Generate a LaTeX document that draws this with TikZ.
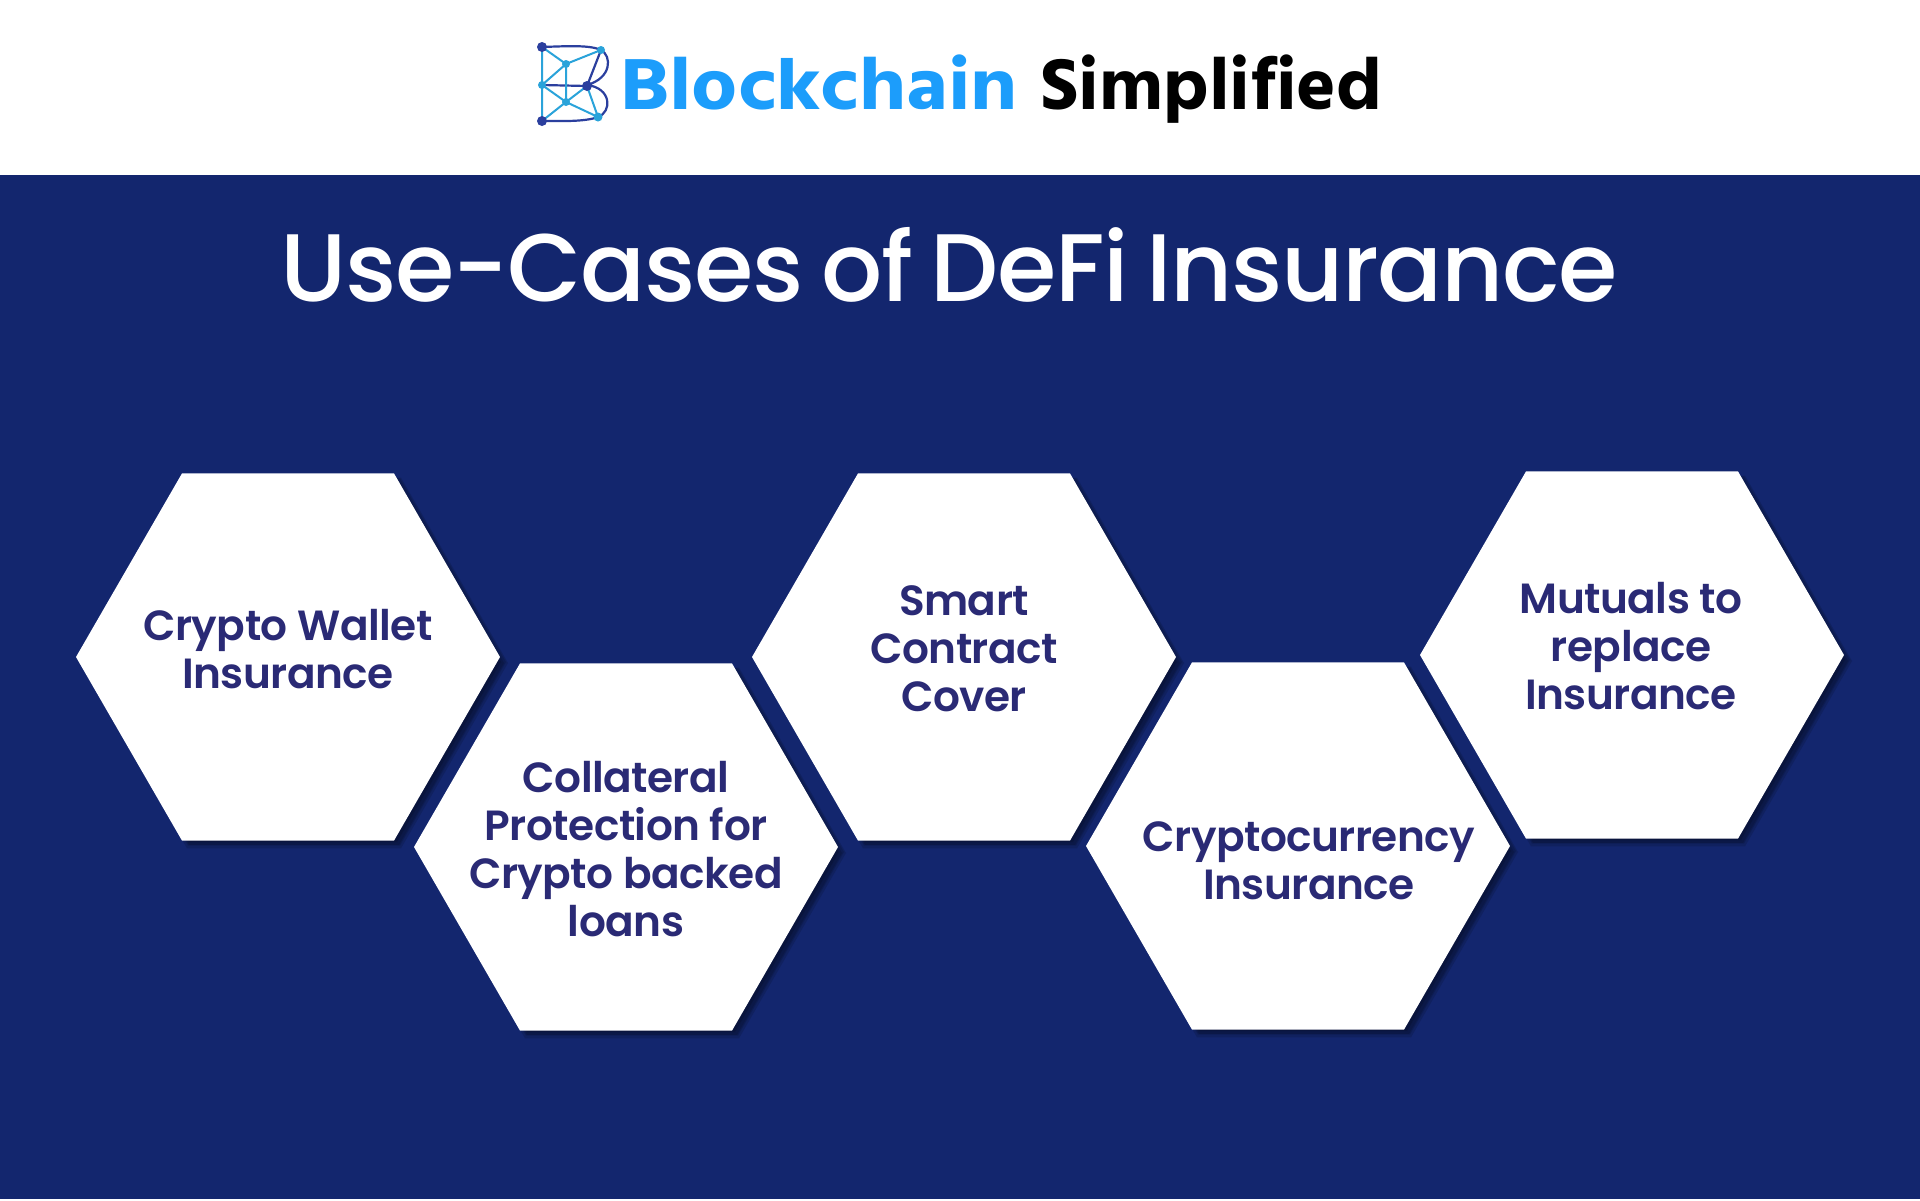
\documentclass[tikz,border=0pt]{standalone}
\usepackage{fontspec}
\usetikzlibrary{shapes.geometric}
\setmainfont{Poppins}[BoldFont={Poppins SemiBold},BoldFeatures={LetterSpace=-1.2}]
\newfontfamily\titlefont{Poppins Medium}[LetterSpace=-1.4,WordSpace=0.75]
\newfontfamily\logofont{Hind Siliguri Bold}[Ligatures=NoCommon,FakeStretch=1.1]
\newfontfamily\logofontb{Hind Siliguri Bold}[Ligatures=NoCommon,FakeStretch=1.01]
\definecolor{band}{HTML}{13266E}
\definecolor{hextext}{HTML}{2A2A75}
\definecolor{logoblue}{HTML}{1C9DFB}
\definecolor{logodark}{HTML}{2B3F9E}
\definecolor{logocyan}{HTML}{2AA3DA}
\tikzset{
  hexa/.style={regular polygon,regular polygon sides=6,minimum size=424pt,inner sep=0pt,fill=white,draw=none},
  hexshadow/.style={regular polygon,regular polygon sides=6,minimum size=#1,inner sep=0pt,fill=black,fill opacity=0.13,draw=none},
  hexlabel/.style={font=\fontsize{42.2}{48}\selectfont\bfseries,text=hextext,align=center,inner sep=0pt},
  lnode/.style={circle,inner sep=0pt,minimum size=#1},
  ledge/.style={line width=2pt,logocyan},
  louter/.style={line width=2.2pt,logodark}
}
\newcommand{\hexcell}[3]{%
  \node[hexshadow=428pt] at (#2+6,#3+6) {};
  \node[hexshadow=424pt] at (#2+6,#3+5) {};
  \node[hexshadow=420pt] at (#2+6,#3+6) {};
  \node[hexshadow=416pt] at (#2+5,#3+5) {};
  \node[hexa] (#1) at (#2,#3) {};
}
\begin{document}
\begin{tikzpicture}[x=1pt,y=-1pt]
\useasboundingbox (0,0) rectangle (1920,1200);
\fill[white] (0,0) rectangle (1920,1200);
\fill[band] (0,175) rectangle (1920,1199);
% logo
\foreach \n/\x/\y in {a/542/47,b/601/50,c/566/64,d/542/85,e/587/86,f/566/102,g/542/121,h/598/117}
  \coordinate (\n) at (\x,\y);
\draw[louter] (a) -- (g);
\draw[louter] (a) .. controls (570,46) and (590,45) .. (601,50) .. controls (612,56) and (612,78) .. (587,85) .. controls (612,88) and (612,112) .. (598,117) .. controls (585,122) and (560,121) .. (g);
\draw[louter] (d) -- (e) -- (b);
\draw[ledge] (a) -- (c) -- (b) (c) -- (d) -- (f) -- (e) -- (h) -- (f) -- (g) (c) -- (f) (a)--(d) (d)--(g);
\foreach \n/\s/\c in {a/10/logodark,b/8/logocyan,c/8/logocyan,d/8/logocyan,e/10/logodark,f/8/logocyan,g/10/logodark,h/9/logocyan}
  \node[lnode=\s pt,fill=\c] (n\n) at (\n) {};
\node[anchor=base west,inner sep=0pt,font=\logofont\fontsize{74}{74}\selectfont,text=logoblue] (blockchain) at (620,109.5) {Blockchain};
\node[anchor=base west,inner sep=0pt,font=\logofontb\fontsize{74}{74}\selectfont,text=black] (simplified) at (1040,109.5) {Simplified};
% title
\node[font=\titlefont\fontsize{96}{96}\selectfont,text=white,inner sep=0pt] (title) at (949,265) {Use-Cases of DeFi Insurance};
% hexagons
\hexcell{h1}{288}{657}
\hexcell{h2}{626}{847}
\hexcell{h3}{964}{657}
\hexcell{h4}{1298}{846}
\hexcell{h5}{1632}{655}
\node[hexlabel] (t1) at (288,649.5) {Crypto Wallet\\Insurance};
\node[hexlabel] (t2) at (626,849.5) {Collateral\\Protection for\\Crypto backed\\loans};
\node[hexlabel] (t3) at (964,648.5) {Smart\\Contract\\Cover};
\node[hexlabel] (t4) at (1309,860.5) {Cryptocurrency\\Insurance};
\node[hexlabel] (t5) at (1631,646.5) {Mutuals to\\replace\\Insurance};
\end{tikzpicture}
\end{document}
